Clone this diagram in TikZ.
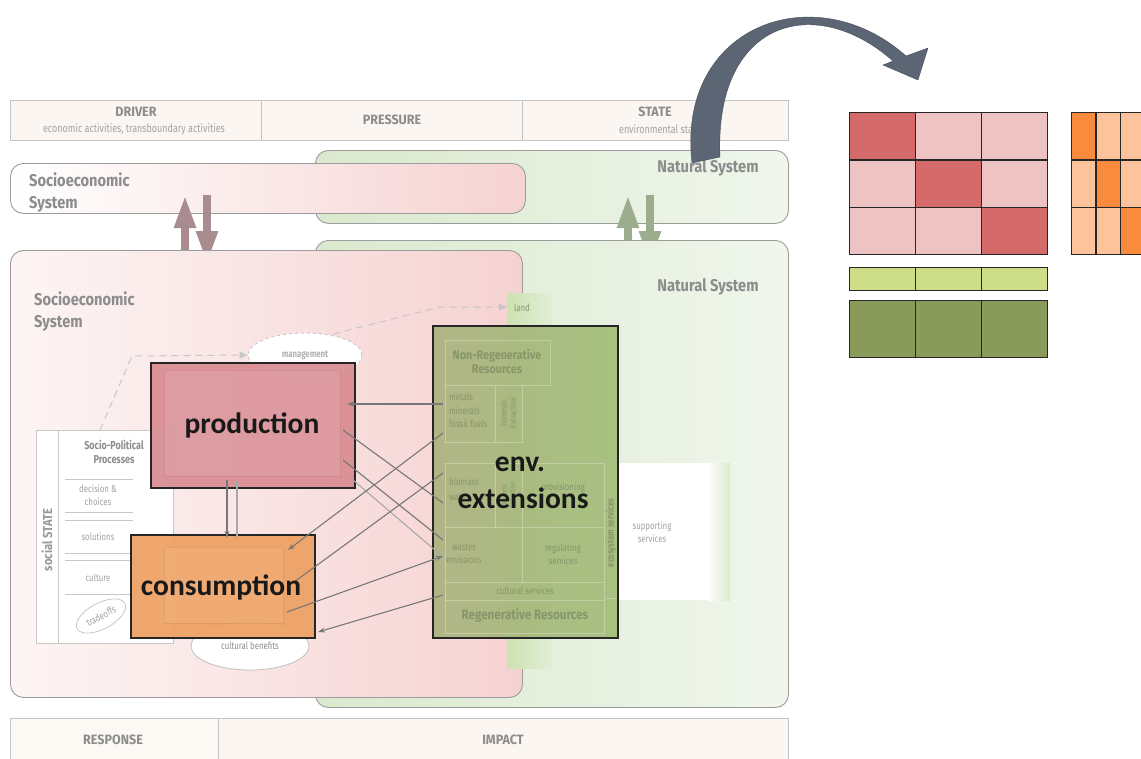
\documentclass[tikz,border=0pt]{standalone}
\usepackage{fontspec}
\setmainfont{Carlito}
\newfontfamily\fut[FakeStretch=0.78]{Fira Sans}
\newfontfamily\futm[FakeStretch=0.86]{Fira Sans}
\newfontfamily\futw[FakeStretch=0.93]{Fira Sans}
\usetikzlibrary{arrows.meta,shapes.geometric}
\definecolor{hdr}{HTML}{8C8C8C}
\definecolor{lgt}{HTML}{A3A3A3}
\definecolor{barfill}{HTML}{FBF6F1}
\definecolor{barline}{HTML}{C4C4C4}
\definecolor{pinkbg}{HTML}{F5D2D1}
\definecolor{pinkmid}{HTML}{FAE6E5}
\definecolor{greenbg}{HTML}{DAE9CE}
\definecolor{greenfade}{HTML}{F0F6EC}
\definecolor{sysline}{HTML}{9C9C9C}
\definecolor{prodfill}{HTML}{D98C92}
\definecolor{prodin}{HTML}{DFA2A7}
\definecolor{consfill}{HTML}{EEA062}
\definecolor{consin}{HTML}{F2B07A}
\definecolor{envleft}{HTML}{AAB27E}
\definecolor{envright}{HTML}{A0BC76}
\definecolor{envline}{HTML}{C3CFA2}
\definecolor{envtext}{HTML}{86966A}
\definecolor{landfill}{HTML}{CCE3B0}
\definecolor{conn}{HTML}{777777}
\definecolor{connlight}{HTML}{A9A9A9}
\definecolor{pinkarrow}{HTML}{A88C8F}
\definecolor{greenarrow}{HTML}{9CAD8E}
\definecolor{bigarrow}{HTML}{5B6573}
\definecolor{mdark}{HTML}{D46A6A}
\definecolor{mlight}{HTML}{EEC3C4}
\definecolor{odark}{HTML}{F98B3C}
\definecolor{olight}{HTML}{FDC49B}
\definecolor{glight}{HTML}{CEDD88}
\definecolor{gdark}{HTML}{8A9A5A}
\definecolor{panel}{HTML}{C8C8C8}
\tikzset{
  barcell/.style={draw=barline, fill=barfill, line width=0.8pt, inner sep=0pt, anchor=north west},
  head/.style={font=\futw\bfseries\fontsize{13.5}{14}\selectfont, text=hdr, inner sep=0pt},
  subhead/.style={font=\fut\fontsize{11.5}{12}\selectfont, text=lgt, inner sep=0pt},
  syshead/.style={font=\futm\bfseries\fontsize{17}{22}\selectfont, text=hdr, align=left, inner sep=0pt},
  sysbox/.style={draw=sysline, line width=0.9pt, rounded corners=13pt, inner sep=0pt, anchor=north west},
  fatarrow/.style={line width=8pt, -{Triangle[width=20pt,length=33pt]}},
  small/.style={font=\fut\fontsize{10}{13}\selectfont, text=lgt, inner sep=0pt, align=center},
  smallb/.style={font=\fut\bfseries\fontsize{11.5}{13.5}\selectfont, text=hdr, inner sep=0pt, align=center},
  envt/.style={font=\fut\fontsize{10}{13.5}\selectfont, text=envtext, inner sep=0pt, align=left},
  envb/.style={font=\futm\bfseries\fontsize{12.5}{14}\selectfont, text=envtext, inner sep=0pt, align=center},
  envbox/.style={draw=envline, line width=0.8pt, inner sep=0pt, anchor=north west},
  big/.style={font=\bfseries\fontsize{29.5}{33}\selectfont, text=black!90, inner sep=0pt},
  mainbox/.style={draw=black!85, line width=2pt, inner sep=0pt, anchor=north west},
  conn/.style={draw=conn, line width=1.1pt},
  tip/.style={-{Stealth[length=7pt,width=5pt]}},
  dashline/.style={draw=black!22, line width=1pt, dash pattern=on 7pt off 5pt},
  cell/.style={draw=black!85, line width=1.3pt, inner sep=0pt, anchor=north west}
}
\begin{document}
\begin{tikzpicture}[x=1pt,y=-1pt]
\path[use as bounding box, fill=white] (0,0) rectangle (1141,758);

% ---- top bar
\node[barcell, minimum width=251pt, minimum height=40pt] (drv) at (10,100) {};
\node[barcell, minimum width=261pt, minimum height=40pt] (prs) at (261,100) {};
\node[barcell, minimum width=266pt, minimum height=40pt] (sta) at (522,100) {};
\node[head] (drvT) at (136,112) {DRIVER};
\node[subhead] (drvS) at (134,129) {economic activities, transboundary activities};
\node[head] (prsT) at (392,120) {PRESSURE};
\node[head] (staT) at (655,112) {STATE};
\node[subhead] (staS) at (660,129) {environmental state};

% ---- bottom bar
\node[barcell, fill=white!30!barfill, minimum width=208pt, minimum height=45pt] (rsp) at (10,718) {};
\node[barcell, minimum width=570pt, minimum height=45pt] (imp) at (218,718) {};
\node[head] (rspT) at (113,740) {RESPONSE};
\node[head] (impT) at (503,740) {IMPACT};

% ---- upper systems
\node[sysbox, left color=greenbg, right color=greenfade, minimum width=473pt, minimum height=73pt] (nat1) at (315,150) {};
\node[sysbox, shading=axis, left color=white, middle color=pinkmid, right color=pinkbg, minimum width=515pt, minimum height=50pt] (soc1) at (10,163) {};
\node[syshead, anchor=west] (soc1T) at (29,192) {Socioeconomic\\System};
\node[syshead] (nat1T) at (708,168) {Natural System};

% ---- exchange arrows
\coordinate (pu1) at (185,264); \coordinate (pu2) at (185,195);
\coordinate (pd1) at (207,195); \coordinate (pd2) at (207,264);
\coordinate (gu1) at (628,264); \coordinate (gu2) at (628,195);
\coordinate (gd1) at (650,195); \coordinate (gd2) at (650,264);
\draw[fatarrow, draw=pinkarrow, fill=pinkarrow] (pu1) -- (pu2);
\draw[fatarrow, draw=pinkarrow, fill=pinkarrow] (pd1) -- (pd2);
\draw[fatarrow, draw=greenarrow, fill=greenarrow] (gu1) -- (gu2);
\draw[fatarrow, draw=greenarrow, fill=greenarrow] (gd1) -- (gd2);

% ---- lower systems
\node[sysbox, left color=greenbg, right color=greenfade, minimum width=473pt, minimum height=467pt] (nat2) at (315,240) {};
\node[sysbox, shading=axis, left color=white!60!pinkmid, middle color=pinkmid, right color=pinkbg, minimum width=512pt, minimum height=447pt] (soc2) at (10,250) {};
\node[syshead, anchor=west] (soc2T) at (34,311) {Socioeconomic\\System};
\node[syshead] (nat2T) at (708,287) {Natural System};

% ---- land strip and supporting services
\node[anchor=north west, inner sep=0pt, left color=landfill, right color=greenbg!80!white, minimum width=45pt, minimum height=375pt] (land) at (507,293) {};
\node[small, text=envtext] (landT) at (522,308) {land};
\shade[left color=white, right color=greenbg] (708,463) rectangle (730,600);
\node[anchor=north west, inner sep=0pt, fill=white, minimum width=92pt, minimum height=137pt] (supp) at (618,463) {};
\node[small] (suppT) at (652,532) {supporting\\services};

% ---- socio-political panel
\node[draw=panel, fill=white, line width=0.8pt, anchor=north west, inner sep=0pt, minimum width=137pt, minimum height=213pt] (spp) at (36,430) {};
\draw[panel, line width=0.8pt] (58,430) -- (58,643);
\draw[panel, line width=0.8pt] (65,479) -- (133,479) (65,512) -- (133,512) (65,520) -- (133,520)
  (65,553) -- (133,553) (65,560) -- (133,560) (65,594) -- (133,594);
\node[smallb] (sppT) at (114,452) {Socio-Political\\Processes};
\node[small] (dec) at (98,495) {decision \&\\choices};
\node[small] (sol) at (98,537) {solutions};
\node[small] (cul) at (98,578) {culture};
\node[small, ellipse, draw=panel, line width=0.8pt, minimum width=54pt, minimum height=26pt, rotate=28, inner sep=0pt] (trd) at (101,616) {tradeoffs};
\node[font=\futm\bfseries\fontsize{13}{14}\selectfont, text=black!40, rotate=90, inner sep=0pt] (sst) at (47,540) {social STATE};

% ---- ellipses
\node[small, text=black!45, ellipse, draw=black!25, fill=white, line width=0.8pt, minimum width=118pt, minimum height=48pt, inner sep=0pt] (cben) at (250,646) {\raisebox{-1pt}{cultural benefits}};
\node[small, font=\fut\bfseries\fontsize{10}{11}\selectfont, text=black!30, ellipse, draw=black!22, dashed, fill=white, line width=0.9pt, minimum width=114pt, minimum height=44pt] (mgmt) at (305,355) {management};
\coordinate (dA) at (100,430);
\coordinate (dB) at (132,356);
\coordinate (dC) at (333,334);
\coordinate (dD) at (440,307);
\draw[dashline, -{Triangle[length=8pt,width=7pt]}] (dA) -- (dB) -- (mgmt.west);
\draw[dashline, -{Triangle[length=8pt,width=7pt]}] (dC) -- (dD) -- (land.west |- dD);

% ---- env. extensions
\node[mainbox, draw=none, left color=envleft, right color=envright, fill opacity=0.9, minimum width=185pt, minimum height=312pt] (envF) at (432,325) {};
\node[envbox, minimum width=105pt, minimum height=45pt] (nrr) at (445,340) {};
\node[envb] (nrrT) at (497,362) {Non-Regenerative\\Resources};
\node[envbox, minimum width=50pt, minimum height=57pt] (met) at (445,385) {};
\node[envbox, minimum width=27pt, minimum height=57pt] (dex) at (495,385) {};
\node[envt, anchor=north west] (metT) at (449,393) {metals\\minerals\\fossil fuels};
\node[envt, font=\fut\fontsize{8.5}{9.5}\selectfont, rotate=90, align=center] (dexT) at (508,413) {Domestic\\Extraction};
\node[envbox, minimum width=50pt, minimum height=64pt] (bio) at (445,463) {};
\node[envbox, minimum width=27pt, minimum height=64pt] (dex2) at (495,463) {};
\node[envbox, minimum width=82pt, minimum height=64pt] (prv) at (522,463) {};
\node[envt, anchor=north west] (bioT) at (449,477) {biomass\\[2pt]water};
\node[envt, font=\fut\fontsize{7}{8}\selectfont, rotate=90, align=center] (dex2T) at (508,495) {Domestic\\Extraction};
\node[envt] (prvT) at (563,488) {provisioning};
\node[envbox, minimum width=77pt, minimum height=55pt] (wst) at (445,527) {};
\node[envbox, minimum width=82pt, minimum height=55pt] (rgs) at (522,527) {};
\node[envt, align=center] (wstT) at (464,554) {wastes\\emissions};
\node[envt, align=center] (rgsT) at (563,554) {regulating\\services};
\node[envbox, minimum width=159pt, minimum height=18pt] (cls) at (445,582) {};
\node[envt] (clsT) at (525,591) {cultural services};
\node[envbox, minimum width=159pt, minimum height=33pt] (rgr) at (445,600) {};
\node[envb, font=\futm\bfseries\fontsize{13.5}{15}\selectfont] (rgrT) at (525,616) {Regenerative Resources};
\draw[envline, line width=0.8pt] (604,463) -- (604,598) -- (618,598);
\node[envb, font=\fut\bfseries\fontsize{10}{11}\selectfont, rotate=90] (ecoT) at (611,533) {ecosystem services};
\node[mainbox, minimum width=185pt, minimum height=312pt] (env) at (432,325) {};

% ---- production & consumption
\node[mainbox, draw=none, fill=prodfill, fill opacity=0.92, minimum width=204pt, minimum height=125pt] (prodF) at (150,362) {};
\node[anchor=north west, inner sep=0pt, fill=prodin, fill opacity=0.6, draw=prodfill!80!black, draw opacity=0.25, minimum width=176pt, minimum height=106pt] (prodI) at (164,370) {};
\node[mainbox, minimum width=204pt, minimum height=125pt] (prod) at (150,362) {};
\node[mainbox, draw=none, fill=consfill, fill opacity=0.92, minimum width=184pt, minimum height=103pt] (consF) at (130,534) {};
\node[anchor=north west, inner sep=0pt, fill=consin, fill opacity=0.6, draw=consfill!80!black, draw opacity=0.25, minimum width=119pt, minimum height=76pt] (consI) at (164,547) {};
\node[mainbox, minimum width=184pt, minimum height=103pt] (cons) at (130,534) {};

% ---- connectors
\coordinate (pd) at (227,480); \coordinate (cu) at (227,538);
\coordinate (pu) at (237,480); \coordinate (cd) at (237,538);
\draw[conn, tip] (pd) -- (cu);
\draw[conn, draw=connlight, tip] (cd) -- (pu);
\coordinate (p1) at (347,404); \coordinate (e1) at (443,404);
\coordinate (p2) at (343,430); \coordinate (e2) at (443,503);
\coordinate (p3) at (343,460); \coordinate (e3) at (443,540);
\coordinate (p4) at (353,480); \coordinate (e4) at (443,557);
\draw[conn, tip] (e1) -- (p1);
\draw[conn] (p2) -- (e2);
\draw[conn] (p3) -- (e3);
\draw[conn, draw=connlight] (p4) -- (e4);
\coordinate (e5) at (443,433); \coordinate (c5) at (288,550);
\coordinate (e6) at (443,473); \coordinate (c6) at (290,585);
\coordinate (c7) at (287,612); \coordinate (e7) at (443,556);
\coordinate (e8) at (443,595); \coordinate (c8) at (318,632);
\draw[conn, tip] (e5) -- (c5);
\draw[conn] (e6) -- (c6);
\draw[conn, tip] (c7) -- (e7);
\draw[conn, tip] (e8) -- (c8);

% ---- big labels
\node[big] (prodT) at (252,425) {production};
\node[big] (consT) at (221,587) {consumption};
\node[big] (envT1) at (520,464) {env.};
\node[big] (envT2) at (523,498) {extensions};

% ---- matrices
\foreach \r in {0,1,2}{\foreach \c in {0,1,2}{
  \ifnum\r=\c \def\cc{mdark}\else\def\cc{mlight}\fi
  \node[cell, fill=\cc, minimum width=66pt, minimum height=47.33pt] (R\r\c) at ({849+66*\c},{112+47.33*\r}) {};
  \ifnum\r=\c \def\oc{odark}\else\def\oc{olight}\fi
  \node[cell, fill=\oc, minimum width=24.3pt, minimum height=47.33pt] (O\r\c) at ({1071+24.3*\c},{112+47.33*\r}) {};
}}
\foreach \c in {0,1,2}{
  \node[cell, fill=glight, minimum width=66pt, minimum height=23pt] (G\c) at ({849+66*\c},267) {};
  \node[cell, fill=gdark, minimum width=66pt, minimum height=57pt] (D\c) at ({849+66*\c},300) {};
}

% ---- big curved arrow
\fill[bigarrow, draw=bigarrow!80!black, line width=0.4pt]
  (692,163) .. controls (676,25) and (815,-25) .. (906,56)
  -- (928,48) -- (918,80) -- (883,65) -- (893,61)
  .. controls (815,-8) and (714,20) .. (720,157) -- cycle;
\end{tikzpicture}
\end{document}
